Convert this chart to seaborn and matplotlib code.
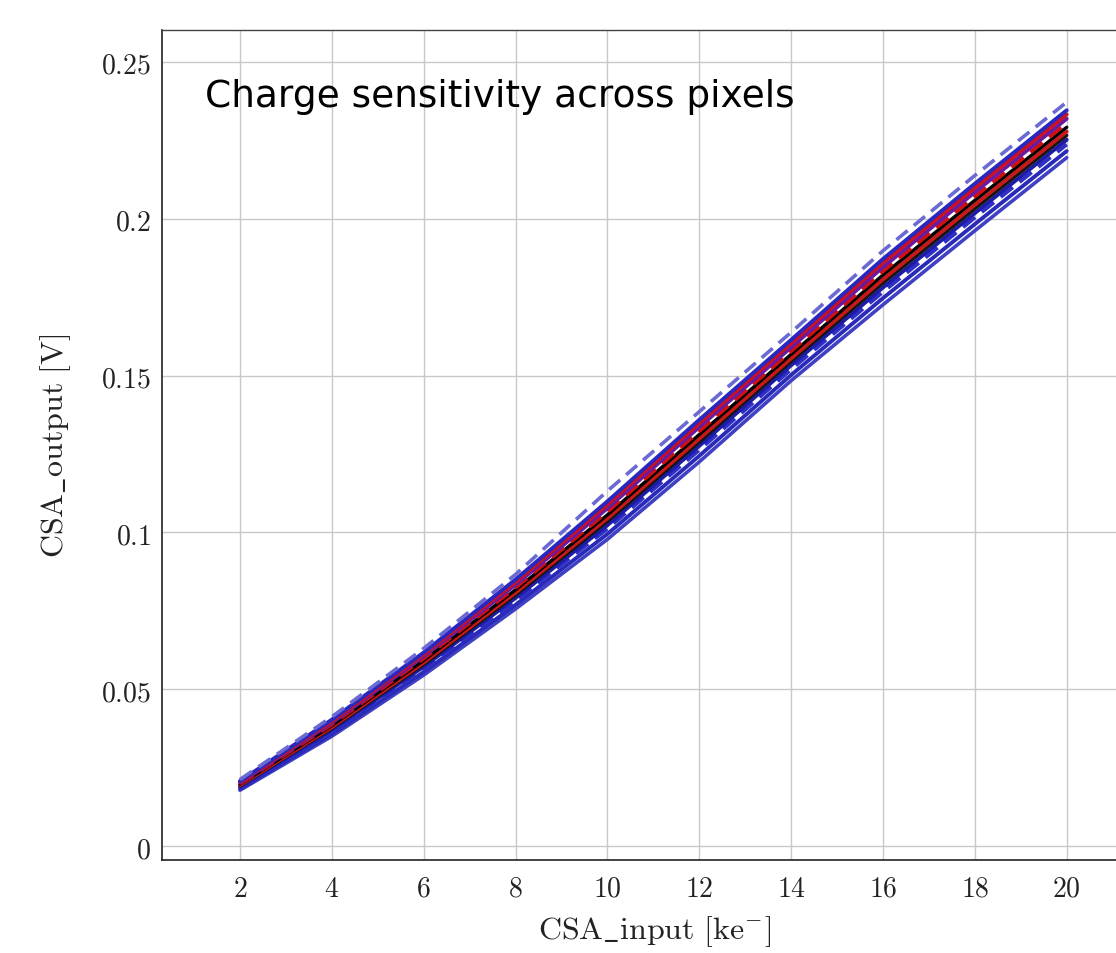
import matplotlib
matplotlib.use("Agg")
import matplotlib.pyplot as plt
import seaborn as sns
import pandas as pd

# ---------------- data ----------------
csa_input = [2, 4, 6, 8, 10, 12, 14, 16, 18, 20]  # ke-

pix_dash_top = [0.0212, 0.0412, 0.0630, 0.0866, 0.1132, 0.1385, 0.1638, 0.1898, 0.2138, 0.2372]
pix_blue_a   = [0.0207, 0.0403, 0.0617, 0.0850, 0.1099, 0.1359, 0.1614, 0.1872, 0.2112, 0.2346]
pix_red_a    = [0.0205, 0.0398, 0.0611, 0.0842, 0.1089, 0.1348, 0.1603, 0.1860, 0.2099, 0.2333]
pix_purple   = [0.0202, 0.0393, 0.0605, 0.0833, 0.1077, 0.1336, 0.1590, 0.1846, 0.2085, 0.2319]
pix_red_b    = [0.0199, 0.0388, 0.0598, 0.0824, 0.1066, 0.1323, 0.1578, 0.1833, 0.2071, 0.2305]
pix_black_a  = [0.0197, 0.0384, 0.0592, 0.0817, 0.1056, 0.1312, 0.1568, 0.1821, 0.2059, 0.2292]
pix_red_c    = [0.0194, 0.0379, 0.0585, 0.0808, 0.1045, 0.1299, 0.1555, 0.1807, 0.2045, 0.2278]
pix_black_b  = [0.0192, 0.0375, 0.0579, 0.0800, 0.1035, 0.1288, 0.1545, 0.1795, 0.2032, 0.2266]
pix_blue_b   = [0.0189, 0.0370, 0.0572, 0.0791, 0.1023, 0.1276, 0.1533, 0.1781, 0.2018, 0.2252]
pix_dash_mid = [0.0186, 0.0365, 0.0565, 0.0782, 0.1012, 0.1263, 0.1520, 0.1767, 0.2004, 0.2237]
pix_blue_c   = [0.0182, 0.0357, 0.0555, 0.0769, 0.0995, 0.1244, 0.1502, 0.1747, 0.1983, 0.2216]
pix_blue_bot = [0.0178, 0.0350, 0.0545, 0.0756, 0.0978, 0.1225, 0.1484, 0.1726, 0.1962, 0.2195]

x_ticks = [2, 4, 6, 8, 10, 12, 14, 16, 18, 20]
x_tick_labels = ["2", "4", "6", "8", "10", "12", "14", "16", "18", "20"]
y_ticks = [0, 0.05, 0.1, 0.15, 0.2, 0.25]
y_tick_labels = ["0", "0.05", "0.1", "0.15", "0.2", "0.25"]

# ---------------- style ----------------
sns.set_theme(style="white")
plt.rcParams["font.family"] = ["DejaVu Sans"]
plt.rcParams["mathtext.fontset"] = "cm"

fig = plt.figure(figsize=(11.16, 9.54), dpi=100)
ax = fig.add_axes([162 / 1116, 93 / 954, 986 / 1116, 830 / 954])

series = [
    (pix_blue_bot, "#4040c4", "-",  2.6),
    (pix_blue_c,   "#2a2ab8", "-",  2.8),
    (pix_dash_mid, "#2f2fc8", "--", 2.8),
    (pix_blue_b,   "#1c1ca8", "-",  2.8),
    (pix_black_b,  "#151515", "-",  2.4),
    (pix_red_c,    "#c81818", "-",  2.8),
    (pix_black_a,  "#000000", "-",  2.4),
    (pix_red_b,    "#d01010", "--", 2.8),
    (pix_purple,   "#6a1aa0", "-",  2.8),
    (pix_red_a,    "#cc1020", "-",  2.8),
    (pix_blue_a,   "#2828c0", "-",  2.8),
    (pix_dash_top, "#6a6ad2", "--", 2.6),
]

for vals, col, ls, lw in series:
    df = pd.DataFrame({"x": csa_input, "y": vals})
    sns.lineplot(data=df, x="x", y="y", color=col, linestyle=ls, linewidth=lw,
                 ax=ax, legend=False)
    if ls == "--":
        ax.lines[-1].set_dashes((4, 2.2))

ax.set_xlim(0.302, 21.77)
ax.set_ylim(-0.00446, 0.2602)

ax.set_xticks(x_ticks, [f"${t}$" for t in x_tick_labels])
ax.set_yticks(y_ticks, [f"${t}$" for t in y_tick_labels])
ax.tick_params(axis="both", labelsize=20, colors="#222222", length=4,
               direction="in", width=0.8)
ax.tick_params(axis="x", pad=10)
ax.tick_params(axis="y", pad=8)

ax.grid(True, color="#c8c8c8", linewidth=1.0)
ax.set_axisbelow(True)

for side in ["left", "bottom"]:
    ax.spines[side].set_color("#222222")
    ax.spines[side].set_linewidth(1.2)
ax.spines["top"].set_color("#444444")
ax.spines["top"].set_linewidth(1.0)
ax.spines["right"].set_visible(False)

ax.set_xlabel(r"$\mathrm{CSA\_input\ [ke^{-}]}$", fontsize=23, labelpad=8, color="#222222")
ax.set_ylabel(r"$\mathrm{CSA\_output\ [V]}$", fontsize=23, labelpad=20, color="#222222")

ax.text(1.24, 0.239, "Charge sensitivity across pixels", fontsize=27,
        ha="left", va="center", color="black", family=["DejaVu Sans"])

fig.savefig("out.png", dpi=100)
